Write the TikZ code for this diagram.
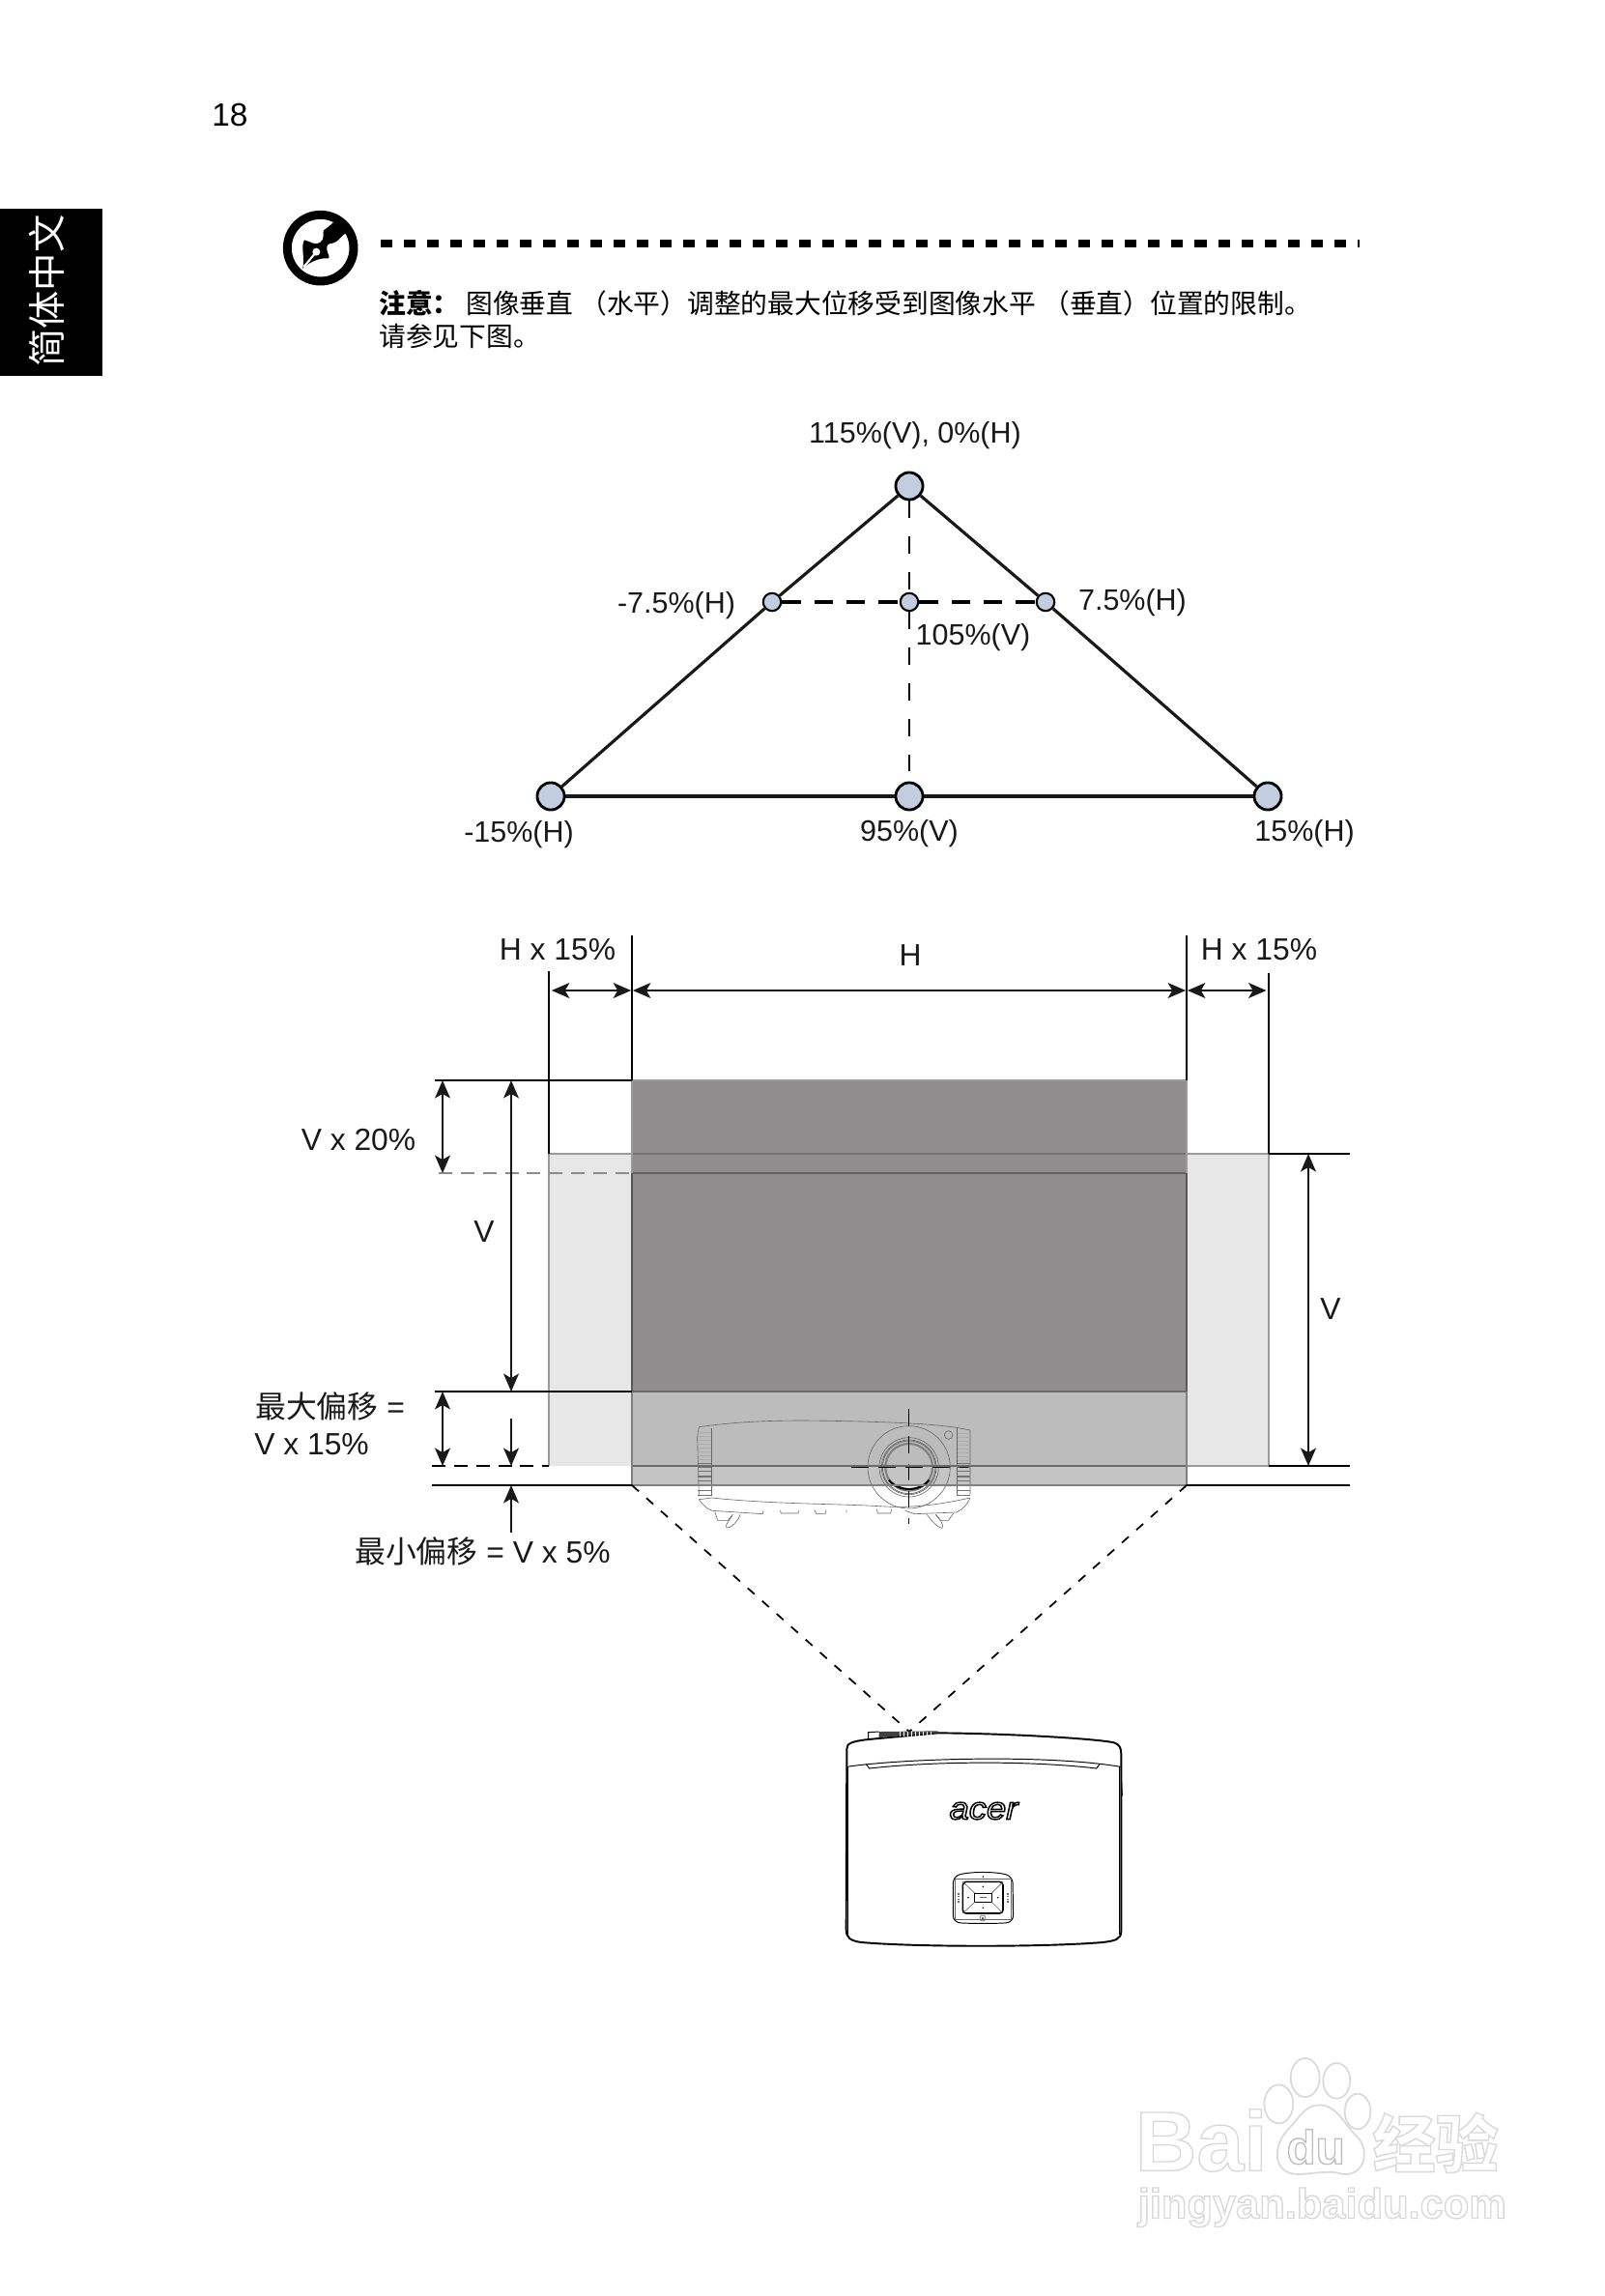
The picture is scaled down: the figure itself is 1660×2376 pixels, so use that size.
\documentclass[tikz,border=0pt]{standalone}
\usepackage{fontspec}
\usetikzlibrary{arrows.meta}
\setmainfont{Liberation Sans}
\newfontfamily\cjk{Noto Sans CJK SC}
\newcommand{\lblfont}{\fontsize{17.35}{20}\selectfont}
\newcommand{\dimfont}{\fontsize{18.1}{20}\selectfont}
\newcommand{\notefont}{\fontsize{15.8}{18}\selectfont}
\newcommand{\outl}[2]{\special{pdf:code #1 G 0.8 w 1 Tr}#2\special{pdf:code 0 Tr 0 G}}
\definecolor{nodefill}{HTML}{C2CDE0}
\definecolor{darkrect}{HTML}{8F8D8E}
\definecolor{midrect}{HTML}{BCBCBC}
\definecolor{lowrect}{HTML}{C4C4C4}
\definecolor{siderect}{HTML}{E7E7E7}
\definecolor{edgegray}{HTML}{9A9A9A}
\definecolor{wm}{HTML}{DADADA}
\tikzset{
  bignode/.style={circle,draw=black,fill=nodefill,line width=1.6pt,minimum size=16pt,inner sep=0pt},
  smallnode/.style={circle,draw=black,fill=nodefill,line width=1.2pt,minimum size=10.5pt,inner sep=0pt},
  side/.style={line width=1.8pt,black!90},
  thindash/.style={line width=1.2pt,dash pattern=on 10pt off 11pt},
  thickdash/.style={line width=1.8pt,dash pattern=on 11pt off 8pt},
  lbl/.style={font=\lblfont,inner sep=0pt,text=black!90},
  dlbl/.style={font=\dimfont,inner sep=0pt,text=black!90},
  dim/.style={line width=1.2pt,black!90,>={Stealth[length=10.5pt,width=9pt,inset=2.6pt]}},
  ext/.style={line width=0.7pt,black},
  proj/.style={line width=1pt,black,dash pattern=on 5.4pt off 6pt},
  fine/.style={line width=0.35pt,black!60},
  finer/.style={line width=0.55pt,black},
  note/.style={font=\notefont\cjk,inner sep=0pt,anchor=west,text=black}
}
\begin{document}
\begin{tikzpicture}[x=0.02cm,y=-0.02cm]
\useasboundingbox (0,0) rectangle (1660,2376);
\fill[white] (0,0) rectangle (1660,2376);

% page number and side tab
\node[font=\fontsize{19}{20}\selectfont,inner sep=0pt] (page) at (238,119) {18};
\fill[black] (0,216) rectangle (106,389);
\node[rotate=90,text=white,font=\fontsize{22.4}{24}\selectfont\cjk,inner sep=0pt] (tab) at (48,301) {简体中文};

% note icon
\begin{scope}[shift={(285,210)},x=0.00667cm,y=-0.00667cm]
  \draw[black,line width=5.1pt] (140,140) circle (103);
  \fill[black] (85,203) .. controls (92,170) and (78,135) .. (90,115)
     .. controls (105,118) and (125,135) .. (140,122)
     .. controls (155,110) and (145,95) .. (150,85)
     .. controls (165,75) and (180,60) .. (192,50)
     .. controls (205,65) and (215,78) .. (222,92)
     .. controls (205,100) and (195,122) .. (178,125)
     .. controls (165,125) and (158,130) .. (160,145)
     .. controls (162,160) and (170,165) .. (165,172)
     .. controls (140,170) and (110,180) .. cycle;
  \fill[white] (127,152) circle (12);
  \draw[white,line width=1.2pt] (127,152) -- (88,199);
\end{scope}

% note rule and text
\coordinate (ruleA) at (394,252);
\coordinate (ruleB) at (1407,252);
\draw[black,line width=4pt,dash pattern=on 6.85pt off 6.85pt] (ruleA) -- (ruleB);
\node[note] (n1) at (392,314) {\textbf{注意：}};
\node[note] (n2) at (482,314) {图像垂直};
\node[note] (n3) at (600,314) {（水平）调整的最大位移受到图像水平};
\node[note] (n4) at (1079,314) {（垂直）位置的限制。};
\node[note] (n5) at (392,348) {请参见下图。};

% triangle
\node[bignode] (top) at (941,503) {};
\node[bignode] (bl) at (570,824) {};
\node[bignode] (bm) at (941,824) {};
\node[bignode] (br) at (1312,824) {};
\node[smallnode] (ml) at (799,623) {};
\node[smallnode] (mc) at (941,623) {};
\node[smallnode] (mr) at (1082,623) {};
\draw[side] (top) -- (ml); \draw[side] (ml) -- (bl);
\draw[side] (top) -- (mr); \draw[side] (mr) -- (br);
\draw[side] (bl) -- (bm); \draw[side] (bm) -- (br);
\draw[thindash] (top) -- (mc);
\draw[thindash] (mc) -- (bm);
\draw[thickdash] (ml) -- (mc);
\draw[thickdash] (mc) -- (mr);
\node[lbl] (t1) at (947,451) {115\%(V), 0\%(H)};
\node[lbl] (t2) at (700,627) {-7.5\%(H)};
\node[lbl] (t3) at (1172,624) {7.5\%(H)};
\node[lbl,fill=white,inner sep=1pt] (t4) at (1007,660) {105\%(V)};
\node[lbl] (t5) at (537,864) {-15\%(H)};
\node[lbl] (t6) at (941,863) {95\%(V)};
\node[lbl] (t7) at (1350,863) {15\%(H)};

% screen rectangles
\fill[siderect] (568,1194) rectangle (654,1517);
\fill[siderect] (1228,1194) rectangle (1313,1517);
\draw[edgegray,line width=1pt] (568,1517) -- (568,1194) -- (654,1194);
\draw[edgegray,line width=1pt] (1228,1194) -- (1313,1194) -- (1313,1517) -- (1228,1517);
\fill[darkrect] (654,1118) rectangle (1228,1440);
\fill[midrect] (654,1440) rectangle (1228,1517);
\fill[lowrect] (654,1517) rectangle (1228,1537);

% small front-view projector over the screen
\begin{scope}[shift={(700,1450)},x=0.00667cm,y=-0.00667cm]
  \draw[fine] (70,80) .. controls (200,62) and (300,60) .. (400,60) .. controls (600,62) and (780,68) .. (870,82);
  \draw[fine] (70,80) -- (65,110) -- (70,295);
  \draw[fine] (870,82) -- (912,90) -- (912,290);
  \foreach \yy in {98,110,122,134,146,158,170,182} {
    \draw[line width=0.7pt,black!32] (65,\yy) -- (108,\yy);
    \draw[line width=0.7pt,black!32] (870,\yy+2) -- (912,\yy+2);
  }
  \foreach \yy in {194,206,218,234,248,262,278,292} {
    \draw[line width=0.7pt,black!55] (65,\yy) -- (108,\yy);
    \draw[line width=0.7pt,black!55] (870,\yy) -- (912,\yy);
  }
  \draw[fine] (108,85) -- (108,295) (870,85) -- (870,292);
  \draw[fine] (70,305) -- (110,300) .. controls (300,320) and (500,318) .. (630,326) .. controls (720,332) and (800,325) .. (912,300);
  \draw[fine] (70,305) .. controls (85,325) and (95,335) .. (112,340) -- (268,350) -- (270,340);
  \draw[fine] (912,300) .. controls (900,325) and (890,335) .. (870,345) -- (740,350) -- (710,340);
  \draw[fine] (322,340) -- (325,348) -- (378,348) -- (380,340) (428,338) -- (435,350) -- (462,350) -- (465,338) (622,336) -- (625,348) -- (665,348) -- (668,336) (528,338) -- (528,345);
  \draw[fine] (120,345) -- (128,370) -- (160,370) -- (175,352);
  \draw[fine] (175,352) .. controls (165,370) and (150,385) .. (155,392) .. controls (170,398) and (195,365) .. (198,352);
  \draw[fine] (860,348) -- (845,370) -- (820,370) -- (805,352);
  \draw[fine] (778,352) .. controls (795,375) and (810,392) .. (825,394) .. controls (832,385) and (818,365) .. (805,352);
  \draw[fine] (722,205) circle (128);
  \draw[fine] (722,205) circle (92);
  \draw[fine] (722,205) circle (85);
  \draw[fine] (845,105) circle (13);
  \draw[black!50,line width=1.2pt] (722,205) circle (73);
  \draw[black,line width=1.2pt] (660,245) .. controls (690,282) and (755,282) .. (785,245);
  \draw[black!55,line width=0.5pt] (722,205) circle (82);
  \draw[line width=0.8pt,black,dash pattern=on 10pt off 6pt] (722,25) -- (722,382);
  \draw[line width=0.8pt,black,dash pattern=on 10pt off 6pt] (543,205) -- (905,205);
\end{scope}

% rectangle edges
\draw[black!55,line width=0.7pt] (654,1194) -- (1228,1194);
\draw[black!62,line width=1pt] (654,1214) -- (1228,1214);
\draw[black!58,line width=1.3pt] (654,1440) -- (1228,1440);
\draw[black!58,line width=1pt] (654,1517) -- (1228,1517);
\draw[black!50,line width=1.4pt] (654,1537) -- (1228,1537);
\draw[edgegray,line width=1.4pt] (654,1118) -- (1228,1118);
\draw[black!65,line width=1.6pt] (654,1214) -- (654,1440);
\draw[edgegray,line width=1.6pt] (654,1118) -- (654,1214);
\draw[black!50,line width=1.6pt] (654,1440) -- (654,1537);
\draw[black!65,line width=1.6pt] (1228,1214) -- (1228,1440);
\draw[edgegray,line width=1.6pt] (1228,1118) -- (1228,1214);
\draw[black!50,line width=1.6pt] (1228,1440) -- (1228,1537);

% extension lines
\coordinate (tl) at (654,1118);
\coordinate (tr) at (1228,1118);
\coordinate (xl) at (568,1194);
\coordinate (xr) at (1313,1194);
\coordinate (xlb) at (568,1517);
\coordinate (xrb) at (1313,1517);
\coordinate (ml2) at (654,1440);
\coordinate (bl2) at (654,1537);
\coordinate (br2) at (1228,1537);
\coordinate (dl) at (654,1214);
\draw[ext] (tl) -- (654,968);
\draw[ext] (tr) -- (1228,968);
\draw[ext] (xl) -- (568,1005);
\draw[ext] (xr) -- (1313,1007);
\draw[ext] (450,1118) -- (tl);
\draw[ext] (450,1440) -- (ml2);
\draw[ext] (447,1537) -- (bl2);
\draw[ext] (br2) -- (1397,1537);
\draw[ext] (xrb) -- (1397,1517);
\draw[ext] (xr) -- (1397,1194);
\draw[ext,dash pattern=on 8pt off 5pt] (447,1517) -- (xlb);
\draw[line width=0.7pt,black!45,dash pattern=on 8pt off 5pt] (454,1214) -- (dl);

% dimension arrows
\coordinate (h0) at (568,1025);
\coordinate (h1) at (654,1025);
\coordinate (h2) at (1228,1025);
\coordinate (h3) at (1313,1025);
\draw[dim,<->] ([xshift=1.6pt]h0) -- ([xshift=-0.5pt]h1);
\draw[dim,<->] ([xshift=0.5pt]h1) -- ([xshift=-0.5pt]h2);
\draw[dim,<->] ([xshift=0.5pt]h2) -- ([xshift=-1.4pt]h3);
\coordinate (a0) at (458,1118); \coordinate (a1) at (458,1214);
\coordinate (a2) at (458,1440); \coordinate (a3) at (458,1517);
\coordinate (b0) at (529,1118); \coordinate (b1) at (529,1440);
\coordinate (b2) at (529,1468); \coordinate (b3) at (529,1517);
\coordinate (b4) at (529,1586); \coordinate (b5) at (529,1537);
\coordinate (c0) at (1354,1194); \coordinate (c1) at (1354,1517);
\draw[dim,<->] (a0) -- (a1);
\draw[dim,<->] (a2) -- (a3);
\draw[dim,<->] (b0) -- (b1);
\draw[dim,->] (b2) -- (b3);
\draw[dim,->] (b4) -- (b5);
\draw[dim,<->] (c0) -- (c1);

% dimension labels
\node[dlbl] (d1) at (577,983) {H x 15\%};
\node[dlbl] (d2) at (942,989) {H};
\node[dlbl] (d3) at (1303,983) {H x 15\%};
\node[dlbl] (d4) at (371,1180) {V x 20\%};
\node[dlbl] (d5) at (501,1275) {V};
\node[dlbl] (d6) at (1377,1355) {V};
\node[dlbl,anchor=west] (d7) at (264,1455) {{\cjk 最大偏移} =};
\node[dlbl,anchor=west] (d8) at (263,1495) {V x 15\%};
\node[dlbl,anchor=west] (d9) at (367,1605) {{\cjk 最小偏移} = V x 5\%};

% projection lines
\coordinate (apex) at (941,1792);
\draw[proj] (bl2) -- (apex);
\draw[proj] (br2) -- (apex);

% top-view projector
\begin{scope}[shift={(848,1760)},x=0.00667cm,y=-0.00667cm]
  \draw[finer,line width=1.1pt,fill=white] (85,150) .. controls (85,132) and (100,126) .. (152,120) -- (368,100)
     .. controls (600,102) and (860,118) .. (915,130) .. controls (932,135) and (937,148) .. (937,165)
     -- (937,715) .. controls (937,740) and (920,745) .. (880,750) .. controls (700,765) and (300,765) .. (130,750)
     .. controls (95,745) and (83,735) .. (83,710) -- cycle;
  \draw[finer] (88,205) -- (88,725) (932,205) -- (932,725);
  \draw[finer] (85,205) .. controls (250,180) and (700,165) .. (935,205);
  \draw[finer] (145,197) -- (155,210) .. controls (350,188) and (650,185) .. (860,210) -- (870,197);
  \draw[finer] (152,120) -- (152,98) -- (185,96);
  \draw[finer] (938,250) -- (940,295);
  \fill[black!75] (185,96) -- (368,94) -- (368,100) -- (185,114) -- cycle;
  \foreach \xx in {250,262,274,286,298,310,322,334,346} {\draw[white,line width=0.5pt] (\xx,95) -- (\xx,110);}
  \node[font=\fontsize{18.5}{20}\selectfont\itshape,inner sep=0pt,xscale=1.12,text=white] (logo) at (510,342) {\outl{0}{acer}};
  % keypad
  \draw[finer,rounded corners=4pt] (415,545) .. controls (470,530) and (545,530) .. (600,545) -- (602,688) .. controls (545,692) and (470,692) .. (415,688) -- cycle;
  \draw[fine] (422,552) -- (595,552) -- (595,680) -- (422,680) -- cycle;
  \draw[line width=0.9pt,black,rounded corners=2pt] (445,562) -- (570,562) -- (570,660) -- (445,660) -- cycle;
  \draw[finer] (482,597) rectangle (535,625);
  \draw[fine] (445,562) -- (482,597) (570,562) -- (535,597) (445,660) -- (482,625) (570,660) -- (535,625);
  \draw[fine] (507,675) circle (9);
  \fill[black] (507,675) circle (3);
  \foreach \p in {(508,577),(508,643),(462,611),(554,611),(508,546)} {\fill[black] \p circle (2.5);}
  \fill[black!60] (497,609) rectangle (520,613);
  \foreach \yy in {598,606,614,622} {\fill[black!60] (429,\yy) rectangle (435,\yy+4); \fill[black!60] (582,\yy) rectangle (588,\yy+4);}
\end{scope}

% watermark
\begin{scope}[shift={(1120,2100)},x=0.00667cm,y=-0.00667cm]
  \node[font=\fontsize{50}{52}\selectfont\bfseries,inner sep=0pt,text=white] (wmA) at (370,345) {\outl{0.85}{Bai}};
  \draw[wm,line width=1pt] (610,232) ellipse (45 and 60);
  \draw[wm,line width=1pt] (692,150) ellipse (45 and 60);
  \draw[wm,line width=1pt] (790,160) ellipse (42 and 55);
  \draw[wm,line width=1pt] (855,255) ellipse (40 and 55);
  \draw[wm,line width=1pt] (735,235) .. controls (690,235) and (670,280) .. (640,310) .. controls (590,360) and (590,450) .. (670,450) .. controls (710,450) and (770,435) .. (810,450) .. controls (880,455) and (895,370) .. (850,330) .. controls (810,290) and (790,235) .. (735,235) -- cycle;
  \node[font=\fontsize{28}{30}\selectfont\bfseries,inner sep=0pt,text=white] (wmB) at (725,365) {\outl{0.75}{du}};
  \node[font=\fontsize{37}{40}\selectfont\cjk\bfseries,inner sep=0pt,text=white] (wmC) at (1097,352) {\outl{0.85}{经验}};
  \node[font=\fontsize{24.7}{28}\selectfont\bfseries,inner sep=0pt,text=white] (wmD) at (745,553) {\outl{0.85}{jingyan.baidu.com}};
\end{scope}
\end{tikzpicture}
\end{document}
